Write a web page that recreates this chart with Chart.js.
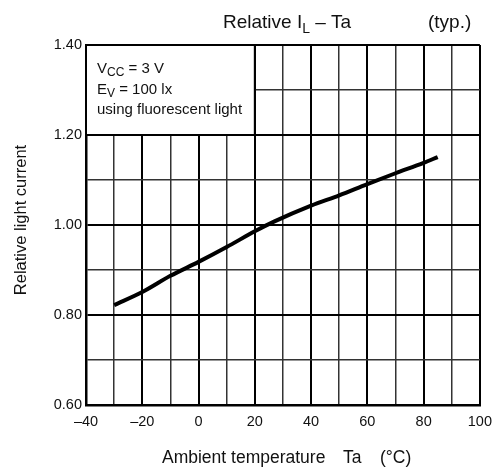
<!DOCTYPE html>
<html>
<head>
<meta charset="utf-8">
<script src="https://cdn.jsdelivr.net/npm/chart.js@4"></script>
<style>
  html, body { margin: 0; padding: 0; background: #fff; }
  #wrap { width: 500px; height: 471px; }
</style>
</head>
<body>
<div id="wrap"><canvas id="c" width="500" height="471"></canvas></div>
<script>
// curve
const temps = [-30, -20, -10, 0, 10, 20, 27, 40, 50, 60, 70, 80, 85];
const relCurrent = [0.822, 0.851, 0.887, 0.918, 0.951, 0.986, 1.008, 1.043, 1.066, 1.091, 1.115, 1.138, 1.151];

const xMin = -40, xMax = 100, xStep = 10;
const yMin = 0.6, yMax = 1.4, yStep = 0.1;

const FONT = '"Liberation Sans", Arial, sans-serif';

// title, axis titles and the conditions box
const annotate = {
    id: 'annotate',
    beforeDatasetsDraw(chart) {
        const { ctx, chartArea: a, scales: { x, y } } = chart;
        // conditions box, covers grid up to 20 °C / 1.20
        const bx = a.left, by = a.top, bw = x.getPixelForValue(20) - a.left, bh = y.getPixelForValue(1.2) - a.top;
        ctx.save();
        ctx.fillStyle = '#fff';
        ctx.fillRect(bx, by, bw, bh);
        ctx.strokeStyle = '#000';
        ctx.lineWidth = 2;
        ctx.strokeRect(bx, by, bw, bh);

        ctx.fillStyle = '#111';
        ctx.textBaseline = 'alphabetic';
        ctx.textAlign = 'left';
        const sub = (main, s, tail, px, py) => {
            ctx.font = '15px ' + FONT;
            ctx.fillText(main, px, py);
            let w = ctx.measureText(main).width;
            ctx.font = '12px ' + FONT;
            ctx.fillText(s, px + w, py + 3);
            w += ctx.measureText(s).width;
            ctx.font = '15px ' + FONT;
            ctx.fillText(tail, px + w, py);
        };
        sub('V', 'CC', ' = 3 V', bx + 11, by + 28);
        sub('E', 'V', ' = 100 lx', bx + 11, by + 49);
        ctx.font = '15px ' + FONT;
        ctx.fillText('using fluorescent light', bx + 11, by + 69);
        ctx.restore();
    },
    afterDraw(chart) {
        const { ctx } = chart;
        ctx.save();
        ctx.fillStyle = '#111';
        ctx.textBaseline = 'alphabetic';
        ctx.textAlign = 'left';
        // title with subscript
        let px = 223;
        ctx.font = '19px ' + FONT;
        ctx.fillText('Relative I', px, 28);
        px += ctx.measureText('Relative I').width;
        ctx.font = '14px ' + FONT;
        ctx.fillText('L', px, 33);
        px += ctx.measureText('L').width;
        ctx.font = '19px ' + FONT;
        ctx.fillText(' \u2013 Ta', px, 28);
        ctx.fillText('(typ.)', 428, 28);

        // x axis title
        ctx.font = '17.5px ' + FONT;
        ctx.fillText('Ambient temperature', 162, 463);
        ctx.fillText('Ta', 343, 463);
        ctx.fillText('(\u00B0C)', 380, 463);

        // y axis title
        ctx.font = '16.5px ' + FONT;
        ctx.translate(21, 220);
        ctx.rotate(-Math.PI / 2);
        ctx.textAlign = 'center';
        ctx.textBaseline = 'middle';
        ctx.fillText('Relative light current', 0, 0);
        ctx.restore();
    }
};

new Chart(document.getElementById('c').getContext('2d'), {
    type: 'line',
    data: {
        datasets: [{
            data: temps.map((t, i) => ({ x: t, y: relCurrent[i] })),
            borderColor: '#000',
            borderWidth: 4,
            pointRadius: 0,
            cubicInterpolationMode: 'monotone',
            fill: false
        }]
    },
    options: {
        responsive: false,
        animation: false,
        layout: { padding: { top: 45, right: 13, bottom: 0, left: 0 } },
        plugins: { legend: { display: false }, tooltip: { enabled: false } },
        scales: {
            x: {
                type: 'linear',
                min: xMin, max: xMax,
                afterFit: (s) => { s.height = 66; },
                ticks: {
                    stepSize: xStep,
                    autoSkip: false,
                    maxRotation: 0,
                    padding: 8,
                    color: '#111',
                    font: { size: 14.5, family: FONT },
                    callback: (v) => (v % 20 === 0 ? String(v).replace('-', '\u2013') : '')
                },
                grid: {
                    color: (c) => (c.tick && c.tick.value % 20 === 0 ? '#000' : '#333'),
                    lineWidth: (c) => (c.tick && c.tick.value % 20 === 0 ? 2 : 1.5),
                    drawTicks: false
                },
                border: { color: '#000', width: 2.5 }
            },
            y: {
                min: yMin, max: yMax,
                afterFit: (s) => { s.width = 86; },
                ticks: {
                    stepSize: yStep,
                    autoSkip: false,
                    padding: 4,
                    color: '#111',
                    font: { size: 14.5, family: FONT },
                    callback: (v) => (Math.round(v * 10) % 2 === 0 ? v.toFixed(2) : '')
                },
                grid: {
                    color: (c) => (c.tick && Math.round(c.tick.value * 10) % 2 === 0 ? '#000' : '#333'),
                    lineWidth: (c) => (c.tick && Math.round(c.tick.value * 10) % 2 === 0 ? 2 : 1.5),
                    drawTicks: false
                },
                border: { color: '#000', width: 2.5 }
            }
        }
    },
    plugins: [annotate]
});
</script>
</body>
</html>
